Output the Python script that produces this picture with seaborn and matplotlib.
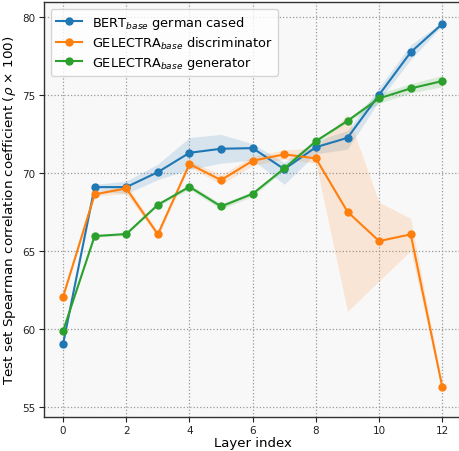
import numpy as np
import pandas as pd
import matplotlib
matplotlib.use("Agg")
import matplotlib.pyplot as plt
import seaborn as sns

layers = list(range(13))
models = ["BERT$_{base}$ german cased",
          "GELECTRA$_{base}$ discriminator",
          "GELECTRA$_{base}$ generator"]

bert_mean = [59.0, 69.07, 69.07, 70.03, 71.27, 71.53, 71.57, 70.22, 71.63, 72.23, 74.99, 77.72, 79.54]
bert_lo   = [58.9, 68.85, 68.65, 69.55, 70.2, 70.6, 70.8, 69.25, 71.2, 71.5, 74.6, 77.25, 79.42]
bert_hi   = [59.1, 69.25, 69.45, 70.55, 72.25, 72.45, 71.85, 70.65, 72.05, 72.7, 75.45, 78.2, 79.66]

disc_mean = [62.02, 68.6, 68.99, 66.04, 70.55, 69.52, 70.76, 71.17, 70.91, 67.49, 65.61, 66.04, 56.23]
disc_lo   = [61.95, 68.5, 68.65, 65.85, 70.35, 69.25, 70.45, 70.87, 70.6, 61.1, 63.05, 65.0, 56.05]
disc_hi   = [62.09, 68.7, 69.25, 66.25, 70.75, 69.85, 71.05, 71.45, 71.6, 73.75, 68.1, 67.06, 56.4]

gen_mean = [59.84, 65.93, 66.06, 67.94, 69.09, 67.83, 68.64, 70.27, 72.02, 73.32, 74.76, 75.4, 75.87]
gen_lo   = [59.75, 65.85, 65.98, 67.85, 68.93, 67.65, 68.48, 70.17, 71.92, 73.22, 74.45, 75.1, 75.5]
gen_hi   = [59.93, 66.01, 66.14, 68.03, 69.25, 68.01, 68.8, 70.37, 72.12, 73.42, 75.07, 75.7, 76.24]

colors = ["#1f77b4", "#ff7f0e", "#2ca02c"]

df = pd.DataFrame({
    "Layer index": layers * 3,
    "score": bert_mean + disc_mean + gen_mean,
    "model": [models[0]] * 13 + [models[1]] * 13 + [models[2]] * 13,
})

fig = plt.figure(figsize=(4.59, 4.52), dpi=100)
ax = fig.add_axes([0.096, 0.076, 0.909, 0.917])
ax.set_facecolor("#f8f8f8")

bands = [(bert_lo, bert_hi), (disc_lo, disc_hi), (gen_lo, gen_hi)]
for (lo, hi), c in zip(bands, colors):
    ax.fill_between(layers, lo, hi, color=c, alpha=0.15, linewidth=0, zorder=1)

sns.lineplot(data=df, x="Layer index", y="score", hue="model", palette=colors,
             marker="o", markersize=6, markeredgewidth=0, linewidth=1.5,
             errorbar=None, ax=ax, zorder=3)

ax.set_xlim(-0.6, 12.6)
ax.set_ylim(54.35, 80.93)
ax.set_xticks(range(0, 13, 2))
ax.set_yticks(range(55, 81, 5))
ax.grid(True, linestyle=":", color="#999999", linewidth=0.9)
ax.set_axisbelow(True)
ax.tick_params(labelsize=7.5, length=3.5, width=0.8, pad=2.5, colors="#222222")
for s in ax.spines.values():
    s.set_color("#333333")
    s.set_linewidth(1.0)
ax.set_xlabel("Layer index", fontsize=9.5, labelpad=1)
ax.set_ylabel("Test set Spearman correlation coefficient ($\\rho$ \u00d7 100)", fontsize=9.7, labelpad=3)

leg = ax.legend(loc="upper left", fontsize=9.3, frameon=True, handlelength=2.0,
                borderaxespad=0.5, labelspacing=0.3)
leg.get_frame().set_edgecolor("#cccccc")
leg.get_frame().set_facecolor("white")

fig.savefig("out.png", dpi=100)
